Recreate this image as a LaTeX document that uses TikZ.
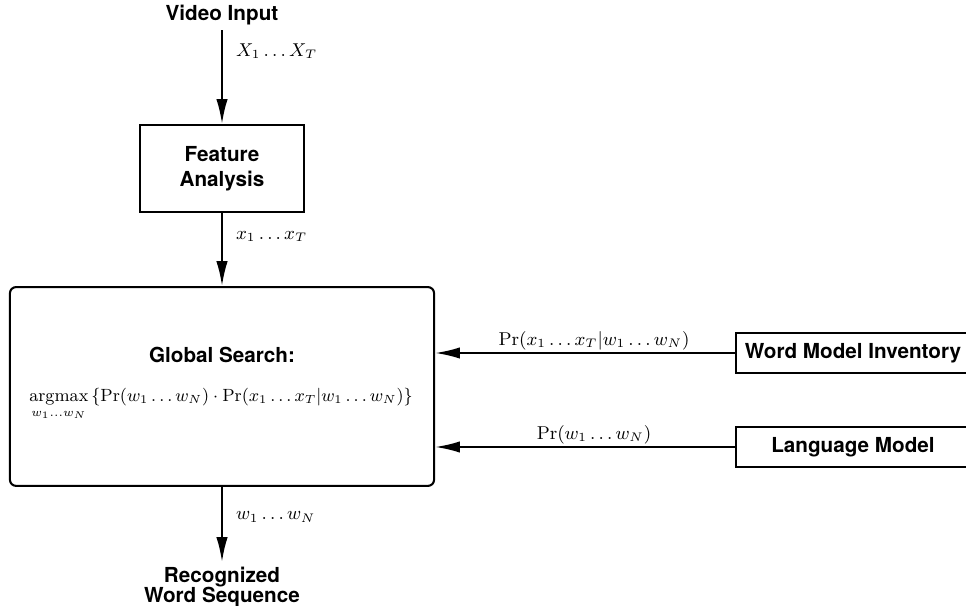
\documentclass[tikz,border=0pt]{standalone}
\usepackage{amsmath}
\usepackage{graphicx}
\usepackage{fontspec}
\setsansfont{TeX Gyre Heros}
\usetikzlibrary{arrows.meta}

\tikzset{
  block/.style={draw, line width=1pt, font=\sffamily\bfseries, align=center},
  heading/.style={font=\sffamily\bfseries, align=center, inner sep=2pt},
  flowlbl/.style={inner sep=1pt, font=\small},
}

\begin{document}
\begin{tikzpicture}[>={Latex[length=12pt,width=5.5pt]}, x=0.017cm, y=0.017cm, line width=1pt]
\useasboundingbox (0,0) rectangle (966,606);

% input and feature extraction
\node[heading] (video) at (222,591) {Video Input};
\node[block, minimum width=2.79cm, minimum height=1.48cm] (feat) at (222,437.5) {Feature\\Analysis};

% search
\node[block, rounded corners=3pt, minimum width=7.21cm, minimum height=3.38cm] (search) at (222,219.5) {};
\node[heading] (searchtitle) at (222,251) {Global Search:};
\node[anchor=base, font=\small] (searchform) at (221,204)
  {\scalebox{.95}{$\displaystyle \operatorname*{argmax}_{w_1\ldots w_N}\,\{\Pr(w_1\ldots w_N)\cdot\Pr(x_1\ldots x_T|w_1\ldots w_N)\}$}};

% knowledge sources
\node[block, minimum width=3.98cm, minimum height=0.68cm] (wordmod) at (853,253) {Word Model Inventory};
\node[block, minimum width=3.98cm, minimum height=0.68cm] (langmod) at (853,159) {Language Model};

% output
\node[heading, anchor=north] (result) at (222,44) {Recognized\\[-2.5pt]Word Sequence};

\draw[->] (video) -- (feat) node[pos=.22, right=3pt, font=\small]{$X_1\ldots X_T$};
\draw[->] (feat) -- (search) node[pos=.32, right=3pt, font=\small]{$x_1\ldots x_T$};
\draw[->] (wordmod.west) -- (wordmod.west -| search.east) node[pos=.47, above, flowlbl]{$\Pr(x_1\ldots x_T|w_1\ldots w_N)$};
\draw[->] (langmod.west) -- (langmod.west -| search.east) node[pos=.47, above, flowlbl]{$\Pr(w_1\ldots w_N)$};
\draw[->] (search) -- (result) node[pos=.4, right=3pt, font=\small]{$w_1\ldots w_N$};
\end{tikzpicture}
\end{document}
